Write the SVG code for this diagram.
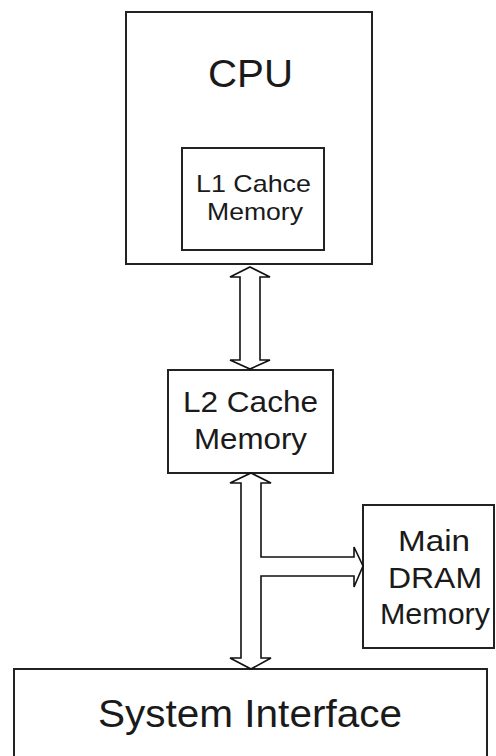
<svg xmlns="http://www.w3.org/2000/svg" width="496" height="756" viewBox="0 0 496 756">
<style>
.box{fill:#fff;stroke:#222;stroke-width:2}
.t{font-family:"Liberation Sans",Arial,sans-serif;fill:#1a1a1a;text-anchor:middle}
.arr{fill:#fff;stroke:#111;stroke-width:1.6;stroke-linejoin:miter}
</style>
<rect width="496" height="756" fill="#fff"/>
<g id="cpu">
<rect class="box" x="126" y="12" width="246" height="252"/>
<text class="t" x="250.5" y="87" font-size="38" textLength="85" lengthAdjust="spacingAndGlyphs">CPU</text>
</g>
<g id="l1">
<rect class="box" x="182" y="148" width="142" height="102"/>
<text class="t" x="253.5" y="192" font-size="24" textLength="115" lengthAdjust="spacingAndGlyphs">L1 Cahce</text>
<text class="t" x="255" y="220" font-size="24" textLength="96" lengthAdjust="spacingAndGlyphs">Memory</text>
</g>
<g id="l2">
<rect class="box" x="168" y="370" width="165" height="103"/>
<text class="t" x="250.5" y="412" font-size="30" textLength="135" lengthAdjust="spacingAndGlyphs">L2 Cache</text>
<text class="t" x="250.5" y="449" font-size="30" textLength="113" lengthAdjust="spacingAndGlyphs">Memory</text>
</g>
<g id="dram">
<rect class="box" x="363" y="505" width="131" height="143"/>
<text class="t" x="434" y="551" font-size="30" textLength="72" lengthAdjust="spacingAndGlyphs">Main</text>
<text class="t" x="435" y="588" font-size="30" textLength="94" lengthAdjust="spacingAndGlyphs">DRAM</text>
<text class="t" x="435" y="624" font-size="30" textLength="110" lengthAdjust="spacingAndGlyphs">Memory</text>
</g>
<g id="sysif">
<rect class="box" x="14" y="669" width="473" height="100"/>
<text class="t" x="250" y="727" font-size="38" textLength="304" lengthAdjust="spacingAndGlyphs">System Interface</text>
</g>
<g id="connectors">
<path class="arr" d="M250,267 L270,277 L260,277 L260,360 L270,360 L250,369 L230,360 L240,360 L240,277 L230,277 Z"/>
<path class="arr" d="M251,473 L271,483 L261,483 L261,557 L354,557 L354,547 L363,566 L354,587 L354,576 L261,576 L261,658 L271,658 L251,669 L230,658 L241,658 L241,483 L230,483 Z"/>
</g>
</svg>
